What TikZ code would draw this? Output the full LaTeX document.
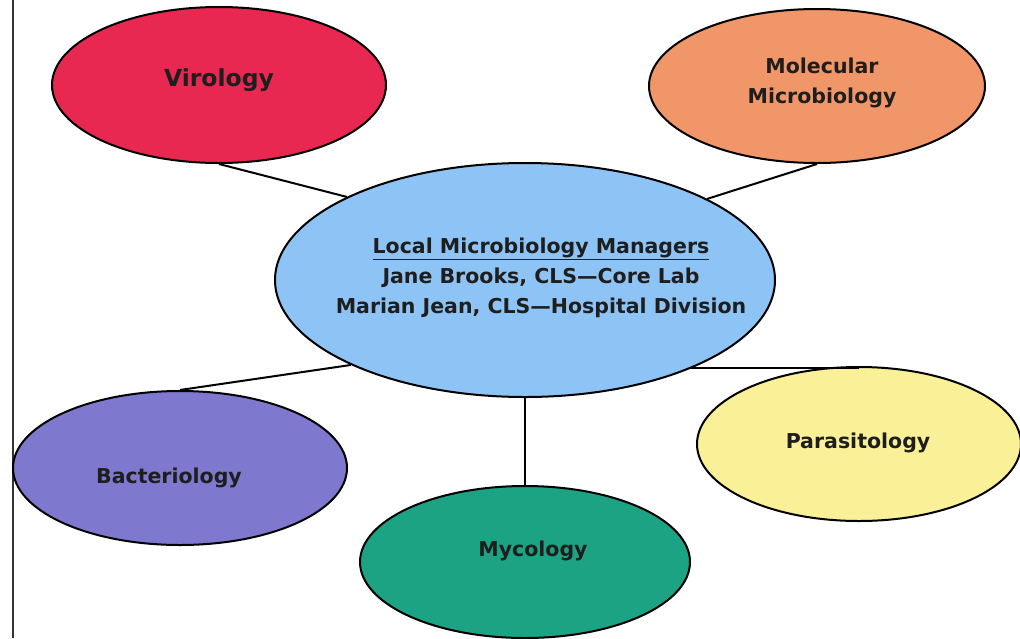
\documentclass[tikz,border=0pt]{standalone}
\usepackage{fontspec}
\setmainfont{DejaVu Sans}
\usetikzlibrary{shapes.geometric}

\definecolor{viro}{RGB}{233,40,82}
\definecolor{molec}{RGB}{241,150,104}
\definecolor{mgr}{RGB}{142,196,245}
\definecolor{bact}{RGB}{126,121,206}
\definecolor{para}{RGB}{250,240,152}
\definecolor{myco}{RGB}{28,163,132}
\definecolor{ink}{RGB}{30,30,30}

\tikzset{
  blob/.style={ellipse, draw=black, line width=2pt, inner sep=0pt},
  lbl/.style={font=\bfseries\fontsize{20.5}{25}\selectfont, text=ink, align=center},
  link/.style={draw=black, line width=2pt}
}

\begin{document}
\begin{tikzpicture}[x=1pt, y=-1pt]
  \useasboundingbox (0,0) rectangle (1020,638);

  % page rule on the left
  \coordinate (ruletop) at (13,0);
  \coordinate (rulebot) at (13,638);
  \draw[line width=1.4pt, black!80] (ruletop) -- (rulebot);

  % discipline bubbles
  \node[blob, fill=viro,  minimum width=334pt, minimum height=156pt] (vir) at (219,85)  {};
  \node[blob, fill=molec, minimum width=336pt, minimum height=154pt] (mol) at (817,86)  {};
  \node[blob, fill=mgr,   minimum width=500pt, minimum height=234pt] (ctr) at (525,280) {};
  \node[blob, fill=bact,  minimum width=334pt, minimum height=154pt] (bac) at (180,468) {};
  \node[blob, fill=para,  minimum width=324pt, minimum height=154pt] (par) at (859,444) {};
  \node[blob, fill=myco,  minimum width=330pt, minimum height=152pt] (myc) at (525,562) {};

  % labels
  \node[lbl, font=\bfseries\fontsize{23.5}{28}\selectfont] (tvir) at (219,80) {Virology};
  \node[lbl, font=\bfseries\fontsize{20.5}{30}\selectfont] (tmol) at (822,83) {Molecular\\Microbiology};
  \node[lbl, font=\bfseries\fontsize{20.5}{30}\selectfont] (tctr) at (541,278)
    {\underline{Local Microbiology Managers}\\Jane Brooks, CLS—Core Lab\\Marian Jean, CLS—Hospital Division};
  \node[lbl] (tbac) at (169,478) {Bacteriology};
  \node[lbl] (tpar) at (858,443) {Parasitology};
  \node[lbl] (tmyc) at (533,551) {Mycology};

  % connectors between the manager bubble and each discipline
  \draw[link] (vir.south) -- (ctr.155);
  \draw[link] (mol.south) -- (ctr.24);
  \draw[link] (bac.north) -- (ctr.206);
  \draw[link] (ctr.332) -- (ctr.332 -| par.north);
  \draw[link] (ctr.south) -- (myc.north);
\end{tikzpicture}
\end{document}
